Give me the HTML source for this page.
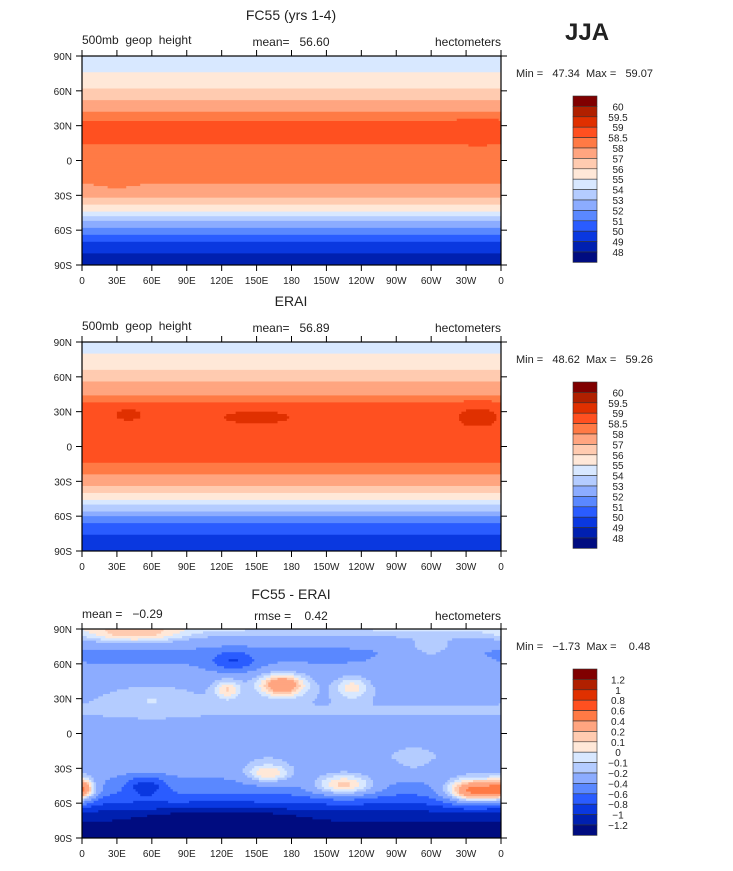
<!DOCTYPE html>
<html><head><meta charset="utf-8"><style>
body{margin:0;background:#fff;}
svg text{font-family:"Liberation Sans",sans-serif;fill:#222;white-space:pre;}
</style></head><body>
<svg id="s" width="733" height="866" xmlns="http://www.w3.org/2000/svg" xml:space="preserve">
<text x="565" y="40" font-size="24" font-weight="bold" fill="#000">JJA</text>
</svg>
<script>
const lats=[90,80,70,60,50,40,30,20,10,0,-10,-20,-30,-40,-50,-60,-70,-80,-90];
const prof1=[54.5,54.7,55.3,56.2,57.3,58.2,58.7,58.7,58.3,58.2,58.2,58.0,57.3,55.8,53.5,51.5,50.0,49.0,48.5];
const prof2=[54.8,55.0,55.6,56.5,57.5,58.4,58.8,58.8,58.6,58.6,58.6,58.3,57.5,56.0,54.0,52.0,50.5,49.5,49.0];
const prof3=[-0.08,-0.3,-0.45,-0.4,-0.3,-0.25,-0.22,-0.19,-0.22,-0.25,-0.25,-0.22,-0.3,-0.42,-0.55,-0.8,-1.1,-1.25,-1.25];
const blobLon3=[172,-23,-135,160,0,125,130,55,45,-128,120,-75,60,-60];
const blobLat3=[42,-50,-45,-35,-48,38,62,-45,85,40,-77,-25,30,70];
const blobAmp3=[0.65,1.0,0.6,0.45,0.6,0.35,-0.4,-0.45,0.35,0.3,-0.4,0.1,0.12,0.25];
const blobSx3=[14,18,20,14,8,8,14,12,30,10,40,12,25,25];
const blobSy3=[7,8,7,6,7,6,6,6,6,7,8,10,8,8];
const blobLon1=[30,-20,150];const blobLat1=[-20,25,25];const blobAmp1=[0.3,0.3,0.2];const blobSx1=[12,12,30];const blobSy1=[6,8,6];
const blobLon2=[-20,40,150];const blobLat2=[25,28,25];const blobAmp2=[0.4,0.3,0.3];const blobSx2=[14,12,30];const blobSy2=[8,6,6];
const lev1=[48,49,50,51,52,53,54,55,56,57,58,58.5,59,59.5,60];
const lab1=['48','49','50','51','52','53','54','55','56','57','58','58.5','59','59.5','60'];
const lev3=[-1.2,-1,-0.8,-0.6,-0.4,-0.2,-0.1,0,0.1,0.2,0.4,0.6,0.8,1,1.2];
const lab3=['\u22121.2','\u22121','\u22120.8','\u22120.6','\u22120.4','\u22120.2','\u22120.1','0','0.1','0.2','0.4','0.6','0.8','1','1.2'];
const cols=['#000c80','#0020b0','#0a38e0','#2a5cff','#5a88ff','#8cacff','#b4ccff','#d8e8ff','#ffe8d8','#ffcbb0','#ffa580','#ff7a45','#ff5020','#e03000','#b02000','#800000'];
const latTicks=['90N','60N','30N','0','30S','60S','90S'];
const lonTicks=['0','30E','60E','90E','120E','150E','180','150W','120W','90W','60W','30W','0'];
const panels=[
 {top:56,title:'FC55 (yrs 1-4)',ty:20,sy:44,l:'500mb  geop  height',m:'mean=   56.60',minmax:'Min =   47.34  Max =   59.07',prof:prof1,bl:[blobLon1,blobLat1,blobAmp1,blobSx1,blobSy1],lev:lev1,lab:lab1},
 {top:342,title:'ERAI',ty:306,sy:330,l:'500mb  geop  height',m:'mean=   56.89',minmax:'Min =   48.62  Max =   59.26',prof:prof2,bl:[blobLon2,blobLat2,blobAmp2,blobSx2,blobSy2],lev:lev1,lab:lab1},
 {top:629,title:'FC55 - ERAI',ty:599,sy:618,l:'mean =   \u22120.29',m:'rmse =    0.42',minmax:'Min =   \u22121.73  Max =    0.48',prof:prof3,bl:[blobLon3,blobLat3,blobAmp3,blobSx3,blobSy3],lev:lev3,lab:lab3}
];
const S=document.getElementById('s');const NS='http://www.w3.org/2000/svg';
function mk(t,a,p){const e=document.createElementNS(NS,t);for(const k in a)e.setAttribute(k,a[k]);(p||S).appendChild(e);return e;}
const X0=82,X1=501,H=209;
function lonX(l){return X0+(l/360)*(X1-X0);}
function interp(arr,lat){for(let i=0;i<lats.length-1;i++){if(lat<=lats[i]&&lat>=lats[i+1]){const f=(lats[i]-lat)/(lats[i]-lats[i+1]);return arr[i]*(1-f)+arr[i+1]*f;}}return arr[arr.length-1];}
function colIdx(v,lev){let i=0;while(i<lev.length&&v>=lev[i])i++;return i;}
panels.forEach((p,pi)=>{
 const yOf=lat=>p.top+(90-lat)/180*H;
 const g=mk('g',{});
 
 
 const step=2;
 for(let lat=90;lat>-90;lat-=step){
  const cl=lat-step/2;let runStart=0,runC=-1;
  for(let lon=0;lon<=360;lon+=step){
   let c=-2;
   if(lon<360){const lo=lon+step/2;let v=interp(p.prof,cl);
    const [bx,by,ba,bsx,bsy]=p.bl;
    for(let b=0;b<bx.length;b++){let dl=((lo-bx[b])%360+540)%360-180;const d=(dl/bsx[b])**2+((cl-by[b])/bsy[b])**2;v+=ba[b]*Math.exp(-d/2);}
    c=colIdx(v,p.lev);}
   if(c!==runC){if(runC>=0){const r=mk('rect',{x:lonX(runStart),y:yOf(lat),width:lonX(lon)-lonX(runStart)+0.5,height:H*step/180+0.5,fill:cols[runC]},g);
     
     }
    runC=c;runStart=lon;}
  }
 }
 const fr=mk('rect',{x:X0,y:p.top,width:X1-X0,height:H,fill:'none',stroke:'#000','stroke-width':1.2});
 
 latTicks.forEach((t,i)=>{const y=p.top+i*H/6;mk('line',{x1:X0-6,x2:X0,y1:y,y2:y,stroke:'#000'});mk('line',{x1:X1,x2:X1+6,y1:y,y2:y,stroke:'#000'});
  const tx=mk('text',{x:X0-10,y:y+4,'font-size':10,'text-anchor':'end'});tx.textContent=t;
  });
 lonTicks.forEach((t,i)=>{const x=X0+i*(X1-X0)/12;mk('line',{x1:x,x2:x,y1:p.top+H,y2:p.top+H+6,stroke:'#000'});mk('line',{x1:x,x2:x,y1:p.top-6,y2:p.top,stroke:'#000'});
  const tx=mk('text',{x:x,y:p.top+H+19,'font-size':10,'text-anchor':'middle'});tx.textContent=t;
  });
 const tt=mk('text',{x:291,y:p.ty,'font-size':14,'text-anchor':'middle',fill:'#000'});tt.textContent=p.title;
 
 const a=mk('text',{x:X0,y:p.sy,'font-size':12});a.textContent=p.l;
 const b=mk('text',{x:291,y:p.sy+2,'font-size':12,'text-anchor':'middle'});b.textContent=p.m;
 const c=mk('text',{x:X1,y:p.sy+2,'font-size':12,'text-anchor':'end'});c.textContent='hectometers';
 const mm=mk('text',{x:516,y:p.top+21,'font-size':11});mm.textContent=p.minmax;
 const cbTop=p.top+40,bh=10.4,cg=mk('g',{});
 
 for(let k=0;k<16;k++){const r=mk('rect',{x:573,y:cbTop+k*bh,width:24,height:bh,fill:cols[15-k],stroke:'#333','stroke-width':0.6},cg);
  }
 for(let k=0;k<15;k++){const t=mk('text',{x:618,y:cbTop+(k+1)*bh+4,'font-size':10,'text-anchor':'middle'},cg);t.textContent=p.lab[14-k];
  }
});
</script>
</body></html>
